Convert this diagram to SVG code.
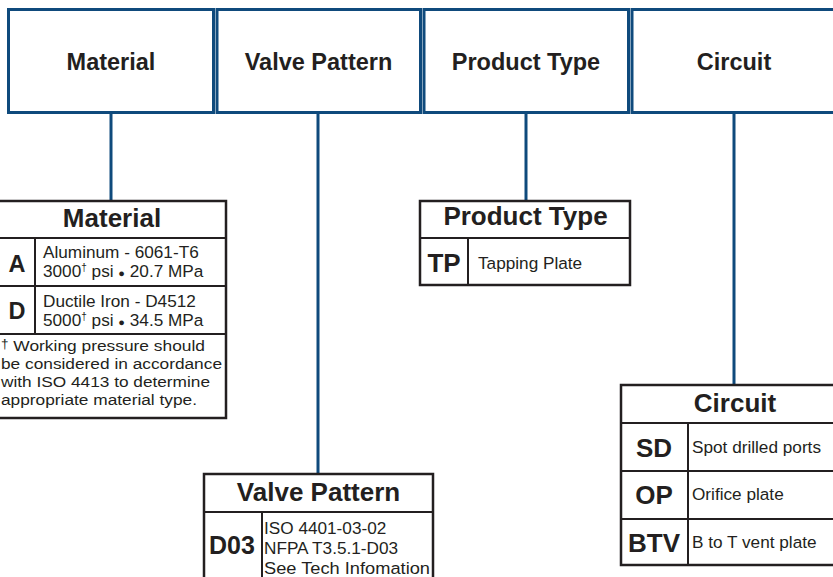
<svg xmlns="http://www.w3.org/2000/svg" width="833" height="577" viewBox="0 0 833 577">
<style>
.top{fill:#fff;stroke:#0f4a7c;stroke-width:3}
.conn{stroke:#0f4a7c;stroke-width:3;fill:none}
.tb{fill:#fff;stroke:#231f20;stroke-width:2.5}
.ln{stroke:#231f20;stroke-width:2;fill:none}
text{font-family:"Liberation Sans",Arial,sans-serif;fill:#231f20}
.h1{font-size:23.5px;font-weight:bold;text-anchor:middle}
.h2{font-size:26px;font-weight:bold;text-anchor:middle}
.code{font-weight:bold;text-anchor:middle}
.t{font-size:17.2px}
.fn{font-size:15.4px}
.sup{font-size:10px}
</style>
<rect width="833" height="577" fill="#fff"/>
<g id="connectors">
<line class="conn" x1="111" y1="112" x2="111" y2="201"/>
<line class="conn" x1="318" y1="112" x2="318" y2="474"/>
<line class="conn" x1="526" y1="112" x2="526" y2="201"/>
<line class="conn" x1="734" y1="112" x2="734" y2="385"/>
</g>
<g id="top-material">
<rect class="top" x="8.5" y="9.5" width="205" height="103"/>
<text class="h1" x="111" y="70">Material</text>
</g>
<g id="top-valve-pattern">
<rect class="top" x="217" y="9.5" width="203.5" height="103"/>
<text class="h1" x="318.5" y="70">Valve Pattern</text>
</g>
<g id="top-product-type">
<rect class="top" x="424" y="9.5" width="204.5" height="103"/>
<text class="h1" x="526" y="70">Product Type</text>
</g>
<g id="top-circuit">
<rect class="top" x="632" y="9.5" width="210" height="103"/>
<text class="h1" x="734" y="70">Circuit</text>
</g>
<g id="table-material">
<rect class="tb" x="-10" y="201" width="236" height="217"/>
<line class="ln" x1="-10" y1="238" x2="226" y2="238"/>
<line class="ln" x1="-10" y1="286" x2="226" y2="286"/>
<line class="ln" x1="-10" y1="334" x2="226" y2="334"/>
<line class="ln" x1="35" y1="238" x2="35" y2="334"/>
<text class="h2" x="112" y="227">Material</text>
<text class="code" x="17" y="272" font-size="23.5">A</text>
<text class="code" x="17" y="319" font-size="23.5">D</text>
<text class="t" x="43" y="258">Aluminum - 6061-T6</text>
<text class="t" x="43" y="277">3000<tspan class="sup" dy="-6">†</tspan><tspan dy="6"> psi </tspan><tspan font-size="11">●</tspan> 20.7 MPa</text>
<text class="t" x="43" y="307">Ductile Iron - D4512</text>
<text class="t" x="43" y="326">5000<tspan class="sup" dy="-6">†</tspan><tspan dy="6"> psi </tspan><tspan font-size="11">●</tspan> 34.5 MPa</text>
<text class="fn" x="1" y="351" textLength="204" lengthAdjust="spacingAndGlyphs"><tspan font-size="12" dy="-3">†</tspan><tspan dy="3"> Working pressure should</tspan></text>
<text class="fn" x="1" y="369" textLength="221" lengthAdjust="spacingAndGlyphs">be considered in accordance</text>
<text class="fn" x="1" y="387" textLength="209" lengthAdjust="spacingAndGlyphs">with ISO 4413 to determine</text>
<text class="fn" x="1" y="405" textLength="196" lengthAdjust="spacingAndGlyphs">appropriate material type.</text>
</g>
<g id="table-product-type">
<rect class="tb" x="420" y="201" width="210" height="84"/>
<line class="ln" x1="420" y1="238" x2="630" y2="238"/>
<line class="ln" x1="468" y1="238" x2="468" y2="285"/>
<text class="h2" x="525.5" y="225">Product Type</text>
<text class="code" x="444" y="272" font-size="26">TP</text>
<text class="t" x="478" y="269">Tapping Plate</text>
</g>
<g id="table-valve-pattern">
<rect class="tb" x="204" y="474" width="229" height="120"/>
<line class="ln" x1="204" y1="512" x2="433" y2="512"/>
<line class="ln" x1="262" y1="512" x2="262" y2="594"/>
<text class="h2" x="318.5" y="501">Valve Pattern</text>
<text class="code" x="232" y="554" font-size="25">D03</text>
<text class="t" x="264" y="534" font-size="17.4">ISO 4401-03-02</text>
<text class="t" x="264" y="554" font-size="17.4">NFPA T3.5.1-D03</text>
<text class="t" x="264" y="573.5" font-size="17.4" textLength="166" lengthAdjust="spacingAndGlyphs">See Tech Infomation</text>
</g>
<g id="table-circuit">
<rect class="tb" x="621" y="385" width="230" height="180"/>
<line class="ln" x1="621" y1="423" x2="851" y2="423"/>
<line class="ln" x1="621" y1="471" x2="851" y2="471"/>
<line class="ln" x1="621" y1="519" x2="851" y2="519"/>
<line class="ln" x1="688" y1="423" x2="688" y2="565"/>
<text class="h2" x="735" y="412">Circuit</text>
<text class="code" x="654" y="457" font-size="26">SD</text>
<text class="code" x="654" y="504" font-size="26">OP</text>
<text class="code" x="654" y="552" font-size="26">BTV</text>
<text class="t" x="692" y="453">Spot drilled ports</text>
<text class="t" x="692" y="500">Orifice plate</text>
<text class="t" x="692" y="547.5">B to T vent plate</text>
</g>
</svg>
